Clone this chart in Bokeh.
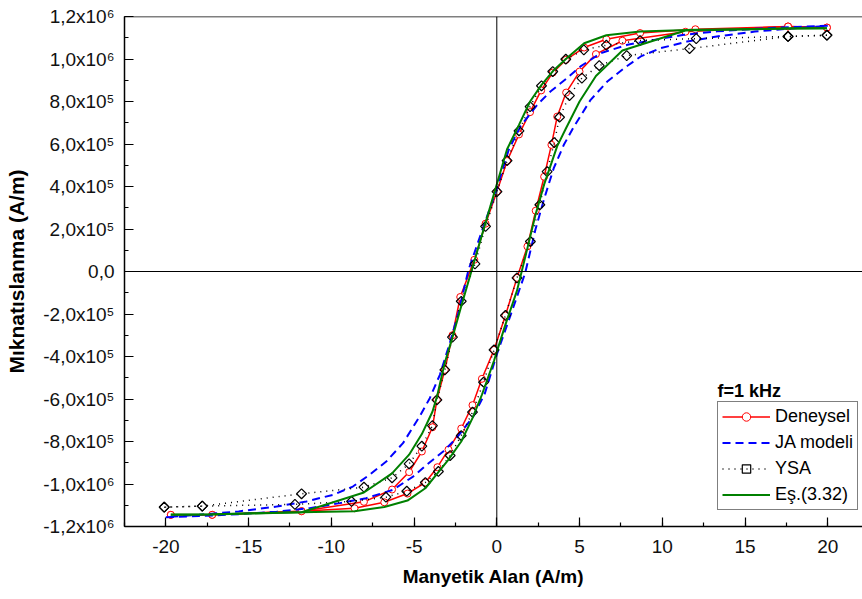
import numpy as np
from bokeh.plotting import figure
from bokeh.models import (Range1d, Span, Label, Legend, LegendItem,
                          SingleIntervalTicker, CustomJSTickFormatter)
from bokeh.embed import file_html
from bokeh.resources import INLINE

# ---------------- data (H in A/m, M in 10^6 A/m) ----------------
# Deneysel (experimental) - descending branch (H: +20 -> -20)
den_desc_H = [19.95, 17.6, 12.0, 8.66, 6.62, 5.28, 4.17, 3.38, 2.68, 2.01, 1.34, 0.62, 0.01,
              -0.68, -1.36, -2.21, -2.68, -3.14, -3.62, -3.89, -4.53, -5.30, -6.33, -8.03,
              -11.8, -17.2, -19.7]
den_desc_M = [1.148, 1.153, 1.140, 1.122, 1.093, 1.054, 0.996, 0.936, 0.852, 0.750, 0.645, 0.520,
              0.376, 0.225, 0.055, -0.120, -0.300, -0.463, -0.604, -0.733, -0.847, -0.944,
              -1.026, -1.084, -1.128, -1.145, -1.145]
# Deneysel - ascending branch (H: -20 -> +20)
den_asc_H = [-19.7, -17.2, -11.8, -8.6, -6.8, -5.4, -4.32, -3.59, -2.92, -2.15, -1.47, -0.90,
             -0.17, 0.52, 1.22, 1.85, 2.35, 2.86, 3.30, 3.65, 4.19, 5.0, 5.99, 7.59, 11.4,
             17.6, 19.95]
den_asc_M = [-1.145, -1.145, -1.128, -1.114, -1.086, -1.045, -0.993, -0.921, -0.838, -0.739,
             -0.629, -0.505, -0.369, -0.207, -0.030, 0.118, 0.286, 0.446, 0.596, 0.729, 0.842,
             0.941, 1.023, 1.086, 1.128, 1.153, 1.148]

# JA modeli
ja_desc_H = [20, 18, 15.6, 13.3, 11.3, 9.5, 7.9, 6.27, 5.06, 4.25, 3.24, 2.44, 1.42, 0.72, 0.0,
             -0.8, -1.71, -2.33, -2.84, -3.44, -4.05, -4.66, -5.67, -6.68, -7.69, -8.7, -9.9,
             -11.5, -13.3, -15.6, -18, -20]
ja_desc_M = [1.156, 1.151, 1.142, 1.130, 1.114, 1.090, 1.067, 1.027, 0.965, 0.910, 0.847, 0.784,
             0.682, 0.573, 0.390, 0.212, 0.008, -0.196, -0.337, -0.486, -0.596, -0.682, -0.808,
             -0.894, -0.957, -1.012, -1.051, -1.082, -1.106, -1.129, -1.145, -1.156]
ja_asc_H = [-20, -18, -15.6, -13.3, -11.3, -9.5, -7.9, -6.27, -5.06, -4.25, -3.24, -2.44, -1.42,
            -0.72, 0.0, 0.8, 1.71, 2.33, 2.84, 3.44, 4.05, 4.66, 5.67, 6.68, 7.69, 8.7, 9.9,
            11.5, 13.3, 15.6, 18, 20]
ja_asc_M = [-1.156, -1.151, -1.142, -1.130, -1.114, -1.090, -1.067, -1.027, -0.965, -0.910,
            -0.847, -0.784, -0.682, -0.573, -0.390, -0.212, -0.008, 0.196, 0.337, 0.486, 0.596,
            0.682, 0.808, 0.894, 0.957, 1.012, 1.051, 1.082, 1.106, 1.129, 1.145, 1.156]

# YSA
ysa_desc_H = [19.95, 17.6, 12.05, 8.66, 6.62, 5.26, 4.17, 3.38, 2.70, 2.01, 1.34, 0.62, 0.01,
              -0.68, -1.32, -2.15, -2.68, -3.14, -3.62, -3.89, -4.53, -5.30, -6.33, -8.03,
              -11.8, -17.8, -20.1]
ysa_desc_M = [1.112, 1.106, 1.096, 1.087, 1.065, 1.043, 0.999, 0.941, 0.874, 0.776, 0.662, 0.522,
              0.376, 0.212, 0.036, -0.140, -0.309, -0.463, -0.604, -0.725, -0.822, -0.905,
              -0.971, -1.015, -1.046, -1.104, -1.109]
ysa_asc_H = [-20.1, -17.8, -12.2, -8.78, -6.7, -5.44, -4.32, -3.53, -2.82, -2.15, -1.47, -0.80,
             -0.17, 0.52, 1.22, 2.03, 2.60, 3.04, 3.47, 3.79, 4.39, 5.14, 6.19, 7.85, 11.65,
             17.6, 19.95]
ysa_asc_M = [-1.109, -1.104, -1.096, -1.082, -1.062, -1.034, -0.993, -0.941, -0.866, -0.772,
             -0.662, -0.521, -0.369, -0.207, -0.030, 0.141, 0.314, 0.470, 0.607, 0.726, 0.828,
             0.910, 0.969, 1.016, 1.049, 1.106, 1.112]

# Eş.(3.32) - evaluated at the experimental H values
eq_desc_H = den_desc_H
eq_desc_M = [1.145, 1.143, 1.138, 1.129, 1.112, 1.074, 1.000, 0.942, 0.876, 0.800, 0.690, 0.575,
             0.413, 0.230, 0.048, -0.180, -0.310, -0.428, -0.590, -0.660, -0.765, -0.862,
             -0.950, -1.040, -1.133, -1.142, -1.144]
eq_asc_H = den_asc_H
eq_asc_M = [-1.145, -1.143, -1.133, -1.128, -1.108, -1.078, -1.020, -0.950, -0.885, -0.800,
            -0.690, -0.580, -0.420, -0.250, -0.090, 0.110, 0.270, 0.410, 0.510, 0.590, 0.675,
            0.800, 0.920, 1.040, 1.134, 1.143, 1.145]

UNIT = 1e6
def mv(a):
    return np.asarray(a, dtype=float) * UNIT

FONT = "Liberation Sans"

p = figure(width=862, height=599, output_backend="svg", toolbar_location=None,
           x_range=Range1d(-22.5, 22.1), y_range=Range1d(-1.2e6, 1.2e6),
           min_border_left=124, min_border_right=0, min_border_top=16, min_border_bottom=73,
           background_fill_color="white", border_fill_color="white")
p.outline_line_color = None
p.grid.visible = False

# axes
p.xaxis.ticker = SingleIntervalTicker(interval=5, num_minor_ticks=2)
p.xaxis.formatter = CustomJSTickFormatter(code="return Math.round(tick).toFixed(0);")
p.yaxis.ticker = SingleIntervalTicker(interval=2e5, num_minor_ticks=2)
p.yaxis.formatter = CustomJSTickFormatter(code="""
const t = Math.round(tick / 1e4) * 1e4;
if (t === 0) return "0,0";
const a = Math.abs(t);
const e = a >= 1e6 ? 6 : 5;
const m = t / Math.pow(10, e);
return m.toFixed(1).replace(".", ",") + "x10" + (e === 6 ? "\\u2076" : "\\u2075");
""")
for ax in (p.xaxis[0], p.yaxis[0]):
    ax.axis_line_color = "black"
    ax.axis_line_width = 1.5
    ax.major_tick_line_color = "black"
    ax.major_tick_line_width = 1.2
    ax.minor_tick_line_color = "black"
    ax.minor_tick_line_width = 1.2
    ax.major_tick_in = 9
    ax.major_tick_out = 0
    ax.minor_tick_in = 4
    ax.minor_tick_out = 0
    ax.major_label_text_font = FONT
    ax.major_label_text_font_size = "19px"
    ax.major_label_text_color = "#111111"
    ax.axis_label_text_font = FONT
    ax.axis_label_text_font_style = "bold"
    ax.axis_label_text_color = "black"

p.xaxis.axis_label = "Manyetik Alan (A/m)"
p.xaxis.axis_label_text_font_size = "19px"
p.xaxis.major_label_standoff = 13
p.xaxis.axis_label_standoff = 10
p.yaxis.axis_label = "Mıknatıslanma (A/m)"
p.yaxis.axis_label_text_font_size = "21px"
p.yaxis.major_label_standoff = 10
p.yaxis.axis_label_standoff = 12

# zero lines and top frame line
p.add_layout(Span(location=0, dimension="width", line_color="black", line_width=1))
p.add_layout(Span(location=0, dimension="height", line_color="black", line_width=1))
p.add_layout(Span(location=1.2e6, dimension="width", line_color="black", line_width=1.5))

# series
RED, BLUE, GREEN = "#ff0000", "#0000ff", "#008000"

den_l1 = p.line(den_desc_H, mv(den_desc_M), line_color=RED, line_width=1.5)
den_l2 = p.line(den_asc_H, mv(den_asc_M), line_color=RED, line_width=1.5)
den_s1 = p.scatter(den_desc_H, mv(den_desc_M), marker="circle", size=7, line_color=RED,
                   line_width=1, fill_color="white")
den_s2 = p.scatter(den_asc_H, mv(den_asc_M), marker="circle", size=7, line_color=RED,
                   line_width=1, fill_color="white")

ja_l1 = p.line(ja_desc_H, mv(ja_desc_M), line_color=BLUE, line_width=2, line_dash="8 5")
ja_l2 = p.line(ja_asc_H, mv(ja_asc_M), line_color=BLUE, line_width=2, line_dash="8 5")

ysa_l1 = p.line(ysa_desc_H, mv(ysa_desc_M), line_color="black", line_width=1.5, line_dash="1 5")
ysa_l2 = p.line(ysa_asc_H, mv(ysa_asc_M), line_color="black", line_width=1.5, line_dash="1 5")
ysa_s1 = p.scatter(ysa_desc_H, mv(ysa_desc_M), marker="square", angle=np.pi / 4, size=7,
                   line_color="black", line_width=1.2, fill_color=None)
ysa_s2 = p.scatter(ysa_asc_H, mv(ysa_asc_M), marker="square", angle=np.pi / 4, size=7,
                   line_color="black", line_width=1.2, fill_color=None)

eq_l1 = p.line(eq_desc_H, mv(eq_desc_M), line_color=GREEN, line_width=2)
eq_l2 = p.line(eq_asc_H, mv(eq_asc_M), line_color=GREEN, line_width=2)

legend = Legend(items=[
    LegendItem(label="Deneysel", renderers=[den_l1, den_s1]),
    LegendItem(label="JA modeli", renderers=[ja_l1]),
    LegendItem(label="YSA", renderers=[ysa_l1, ysa_s1]),
    LegendItem(label="Eş.(3.32)", renderers=[eq_l1]),
], location=(593, 16))
legend.label_text_font = FONT
legend.label_text_font_size = "18px"
legend.label_text_color = "black"
legend.border_line_color = "black"
legend.border_line_width = 1
legend.background_fill_alpha = 1.0
legend.padding = 4
legend.spacing = 5
legend.margin = 0
legend.glyph_width = 48
legend.glyph_height = 21
legend.label_height = 21
legend.label_standoff = 5
p.add_layout(legend, "center")

p.add_layout(Label(x=13.33, y=-0.56e6, text="f=1 kHz", text_font=FONT, text_font_size="18px",
                   text_font_style="bold", text_color="black", text_baseline="middle",
                   text_align="left"))

open("out.html", "w").write(file_html(p, INLINE))
